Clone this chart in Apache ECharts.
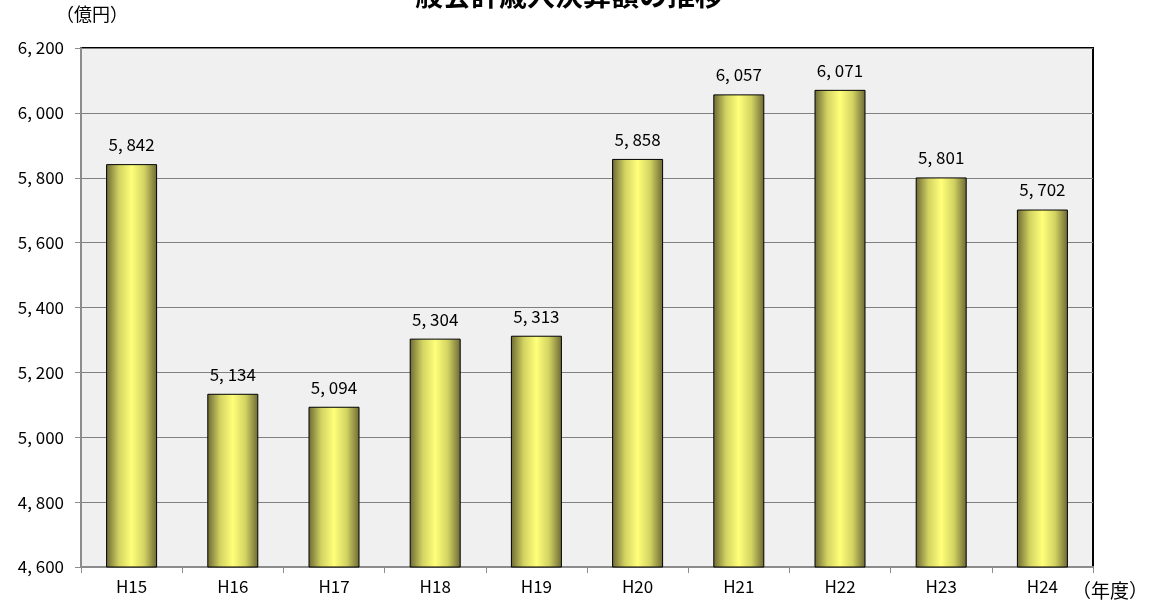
<!DOCTYPE html>
<html>
<head>
<meta charset="utf-8">
<script src="https://cdn.jsdelivr.net/npm/echarts@6/dist/echarts.min.js"></script>
<style>
  html, body { margin: 0; padding: 0; background: #ffffff; }
  #chart { width: 1149px; height: 604px; }
</style>
</head>
<body>
<div id="chart"></div>
<script>
// 年度別の決算額（億円）
const years = ['H15', 'H16', 'H17', 'H18', 'H19', 'H20', 'H21', 'H22', 'H23', 'H24'];
const amounts = [5842, 5134, 5094, 5304, 5313, 5858, 6057, 6071, 5801, 5702];
const yTicks = { min: 4600, max: 6200, step: 200 };

const FONT = '"Noto Sans CJK JP", "DejaVu Sans", sans-serif';
const fmt = v => {
  const s = String(v);
  return s.length > 3 ? s.slice(0, s.length - 3) + ', ' + s.slice(-3) : s;
};

const chart = echarts.init(document.getElementById('chart'));
chart.setOption({
  animation: false,
  backgroundColor: '#ffffff',
  title: {
    text: '一般会計歳入決算額の推移',
    left: 382,
    top: -24,
    textStyle: { fontFamily: FONT, fontSize: 28, fontWeight: 'bold', color: '#000' }
  },
  grid: {
    left: 81, right: 56, top: 48, bottom: 37,
    show: true,
    backgroundColor: '#f0f0f0',
    borderColor: '#000000',
    borderWidth: 2
  },
  graphic: [
    { type: 'text', left: 56, top: 5,
      style: { text: '（億円）', font: '18px ' + FONT, fill: '#000' } },
    { type: 'text', left: 1072, top: 581,
      style: { text: '（年度）', font: '19px ' + FONT, fill: '#000' } }
  ],
  xAxis: {
    type: 'category',
    data: years,
    axisLine: { lineStyle: { color: '#8c8c8c', width: 2 } },
    axisTick: { show: true, alignWithLabel: false, length: 6, lineStyle: { color: '#8c8c8c', width: 1 } },
    axisLabel: { fontFamily: FONT, fontSize: 17, color: '#000', margin: 11 }
  },
  yAxis: {
    type: 'value',
    min: yTicks.min, max: yTicks.max, interval: yTicks.step,
    axisLine: { show: true, lineStyle: { color: '#8c8c8c', width: 2 } },
    axisTick: { show: true, length: 6, lineStyle: { color: '#8c8c8c' } },
    splitLine: { lineStyle: { color: '#808080', width: 1 } },
    axisLabel: { fontFamily: FONT, fontSize: 17, color: '#000', margin: 17, formatter: fmt }
  },
  series: [{
    type: 'bar',
    data: amounts,
    barWidth: 51,
    itemStyle: {
      borderColor: '#000',
      borderWidth: 1,
      color: new echarts.graphic.LinearGradient(0, 0, 1, 0, [
        { offset: 0, color: '#6b6834' },
        { offset: 0.25, color: '#d2d262' },
        { offset: 0.5, color: '#ffff7a' },
        { offset: 0.75, color: '#d2d262' },
        { offset: 1, color: '#6b6834' }
      ])
    },
    label: {
      show: true,
      position: 'top',
      distance: 11,
      fontFamily: FONT,
      fontSize: 17,
      color: '#000',
      formatter: p => fmt(p.value)
    }
  }]
});
</script>
</body>
</html>
